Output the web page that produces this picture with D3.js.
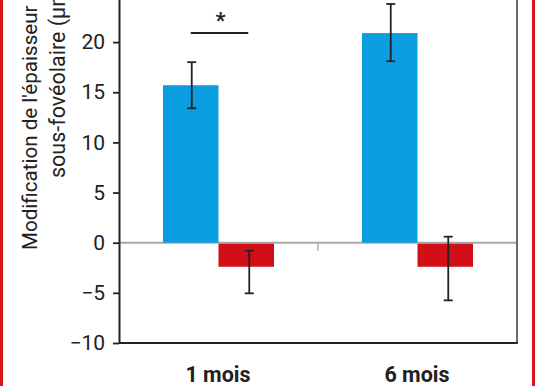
<!DOCTYPE html>
<html><head><meta charset="utf-8">
<script src="https://cdn.jsdelivr.net/npm/d3@7"></script>
<style>body{margin:0;background:#fff}svg{display:block}</style>
</head><body>
<script>
const categories = ["1 mois", "6 mois"];
const series = ["traitement", "contrôle"];
const blueValues = [15.7, 20.9];
const blueLow = [13.4, 18.1];
const blueHigh = [18.0, 23.8];
const redValues = [-2.4, -2.4];
const redLow = [-5.05, -5.75];
const redHigh = [-0.8, 0.6];
const yTicks = [-10, -5, 0, 5, 10, 15, 20, 25];
const yLabel1 = "Modification de l'épaisseur";
const yLabel2 = "sous-fovéolaire (µm)";

const W = 536, H = 386;
const svg = d3.select("body").append("svg").attr("width", W).attr("height", H);
const colors = ["#0a9de0", "#d20e16"];

// red frame border
svg.append("rect").attr("x", 0).attr("y", 0).attr("width", 3).attr("height", H).attr("fill", "#d7141a");
svg.append("rect").attr("x", 532).attr("y", 0).attr("width", 3).attr("height", H).attr("fill", "#d7141a");

const left = 119, right = 517, bottom = 343;
const y = d3.scaleLinear().domain([-10, 25]).range([bottom, bottom - 35 * 10.03]);
const x = d3.scaleBand().domain(categories).range([left, right]);
const xs = d3.scaleBand().domain(series).range([0, 111]);

const data = [];
categories.forEach((c, i) => {
  data.push({c, s: series[0], v: blueValues[i], lo: blueLow[i], hi: blueHigh[i], col: colors[0]});
  data.push({c, s: series[1], v: redValues[i], lo: redLow[i], hi: redHigh[i], col: colors[1]});
});
const bx = d => x(d.c) + (x.bandwidth() - 111) / 2 + xs(d.s);

// zero line
svg.append("line").attr("x1", left).attr("x2", right).attr("y1", y(0)).attr("y2", y(0))
  .attr("stroke", "#a8a8a8").attr("stroke-width", 2);
svg.append("line").attr("x1", x(categories[1])).attr("x2", x(categories[1]))
  .attr("y1", y(0)).attr("y2", y(0) + 8).attr("stroke", "#b0b0b0").attr("stroke-width", 1.5);

// bars
svg.selectAll("rect.bar").data(data).enter().append("rect").attr("class", "bar")
  .attr("x", bx).attr("width", xs.bandwidth())
  .attr("y", d => y(Math.max(0, d.v)) + (d.v < 0 ? 1 : 0))
  .attr("height", d => Math.abs(y(d.v) - y(0)) - (d.v < 0 ? 1 : 0))
  .attr("fill", d => d.col);

// error bars
const eb = svg.selectAll("g.err").data(data).enter().append("g")
  .attr("transform", d => `translate(${bx(d) + xs.bandwidth() / 2 + (d.s === series[1] ? 3 : 1)},0)`)
  .attr("stroke", "#222").attr("stroke-width", 1.8);
eb.append("line").attr("y1", d => y(d.lo)).attr("y2", d => y(d.hi));
eb.append("line").attr("x1", -4.5).attr("x2", 4.5).attr("y1", d => y(d.lo)).attr("y2", d => y(d.lo));
eb.append("line").attr("x1", -4.5).attr("x2", 4.5).attr("y1", d => y(d.hi)).attr("y2", d => y(d.hi));

// frame
svg.append("line").attr("x1", right).attr("x2", right).attr("y1", 0).attr("y2", bottom)
  .attr("stroke", "#444").attr("stroke-width", 1.6);
svg.append("line").attr("x1", left).attr("x2", right + 0.8).attr("y1", bottom).attr("y2", bottom)
  .attr("stroke", "#222").attr("stroke-width", 2);

// y axis
const ya = svg.append("g").attr("transform", `translate(${left},0)`)
  .call(d3.axisLeft(y).tickValues(yTicks).tickSize(6).tickPadding(8).tickSizeOuter(0));
ya.select(".domain").attr("stroke", "#222").attr("stroke-width", 2);
ya.selectAll(".tick line").attr("stroke", "#222").attr("stroke-width", 1.8);
ya.selectAll(".tick text").attr("font-family", "Roboto, sans-serif").attr("font-size", 21)
  .attr("fill", "#222");

// x labels
svg.selectAll("text.xl").data(categories).enter().append("text")
  .attr("x", d => x(d) + x.bandwidth() / 2 - 0.5).attr("y", 382)
  .attr("text-anchor", "middle").attr("font-family", "Roboto, sans-serif")
  .attr("font-weight", "bold").attr("font-size", 21.5).attr("fill", "#222").text(d => d);

// y label
svg.append("text").attr("transform", "translate(37,250) rotate(-90)")
  .attr("font-family", "Roboto, sans-serif").attr("font-size", 20.6).attr("fill", "#222").text(yLabel1);
svg.append("text").attr("transform", "translate(65,178) rotate(-90)")
  .attr("font-family", "Roboto, sans-serif").attr("font-size", 21.5).attr("fill", "#222").text(yLabel2);

// significance
const sx1 = bx(data[0]) + xs.bandwidth() / 2, sx2 = bx(data[1]) + xs.bandwidth() / 2;
svg.append("line").attr("x1", sx1).attr("x2", sx2 + 2).attr("y1", 33).attr("y2", 33)
  .attr("stroke", "#222").attr("stroke-width", 2);
svg.append("text").attr("x", (sx1 + sx2) / 2 + 2).attr("y", 28).attr("text-anchor", "middle")
  .attr("font-family", "Roboto, sans-serif").attr("font-weight", "bold").attr("font-size", 22)
  .attr("fill", "#222").text("*");
</script>
</body></html>
